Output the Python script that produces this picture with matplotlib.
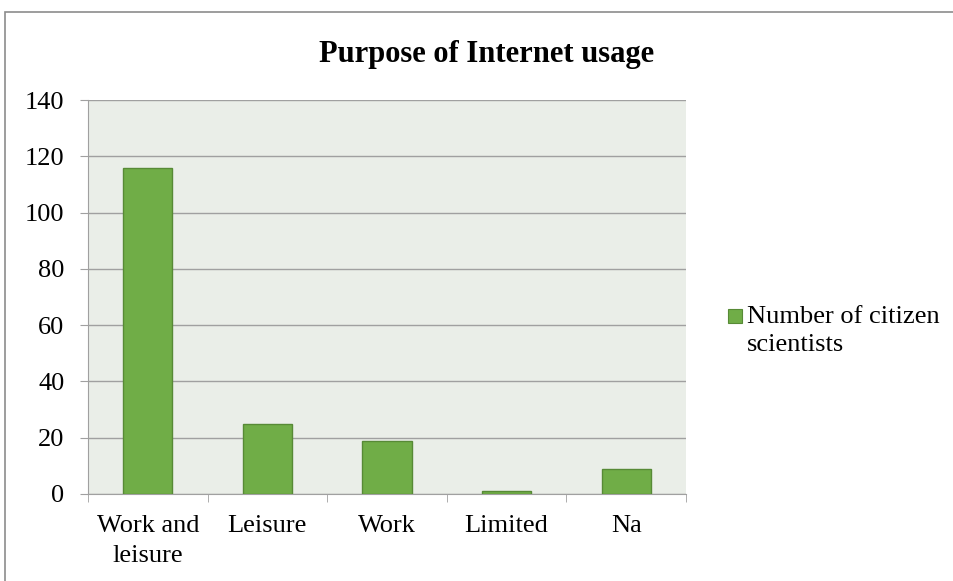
import matplotlib.pyplot as plt
from matplotlib.patches import Rectangle

categories = ["Work and\nleisure", "Leisure", "Work", "Limited", "Na"]
citizens = [116, 25, 19, 1, 9]
series_name = "Number of citizen\nscientists"

plt.rcParams["font.family"] = ["Liberation Serif", "DejaVu Serif"]

W, H = 954, 581
fig = plt.figure(figsize=(W / 100, H / 100), dpi=100)
fig.patches.append(Rectangle((5 / W, -0.1), 1.2, (H - 12) / H + 0.1,
                             transform=fig.transFigure, fill=False,
                             edgecolor="#8c8c8c", linewidth=1.2))

ax = fig.add_axes([88 / W, 87 / H, 598 / W, 394 / H])
ax.set_facecolor("#eaeee8")
x = range(len(categories))
bar_color = "#70ad47"
ax.bar(x, citizens, width=0.41, color=bar_color, edgecolor="#578a36",
       linewidth=1, zorder=3)

ax.set_ylim(0, 140)
ax.set_yticks(range(0, 141, 20))
ax.set_xlim(-0.5, len(categories) - 0.5)
ax.set_xticks(x)
ax.set_xticklabels(categories, linespacing=1.5)
ax.set_xticks([i - 0.5 for i in range(len(categories) + 1)], minor=True)
ax.tick_params(axis="x", which="major", length=0, labelsize=19, pad=15)
ax.tick_params(axis="x", which="minor", length=6, color="#a0a0a0", direction="out")
ax.tick_params(axis="y", length=6, color="#a0a0a0", labelsize=19, pad=11)
ax.grid(axis="y", color="#a0a0a0", linewidth=1, zorder=0)
for side in ["top", "right"]:
    ax.spines[side].set_visible(False)
for side in ["left", "bottom"]:
    ax.spines[side].set_color("#a0a0a0")

fig.text(487 / W, 1 - 62 / H, "Purpose of Internet usage", fontsize=22,
         fontweight="bold", ha="center", va="baseline")

# legend: square beside the first line of the label
fig.patches.append(Rectangle((728 / W, 1 - 323 / H), 14 / W, 14 / H,
                             transform=fig.transFigure, facecolor=bar_color,
                             edgecolor="#578a36", linewidth=0.8))
fig.text(747 / W, 1 - 331 / H, series_name, fontsize=19, ha="left", va="center",
         linespacing=1.35)

fig.savefig("out.png", dpi=100)
